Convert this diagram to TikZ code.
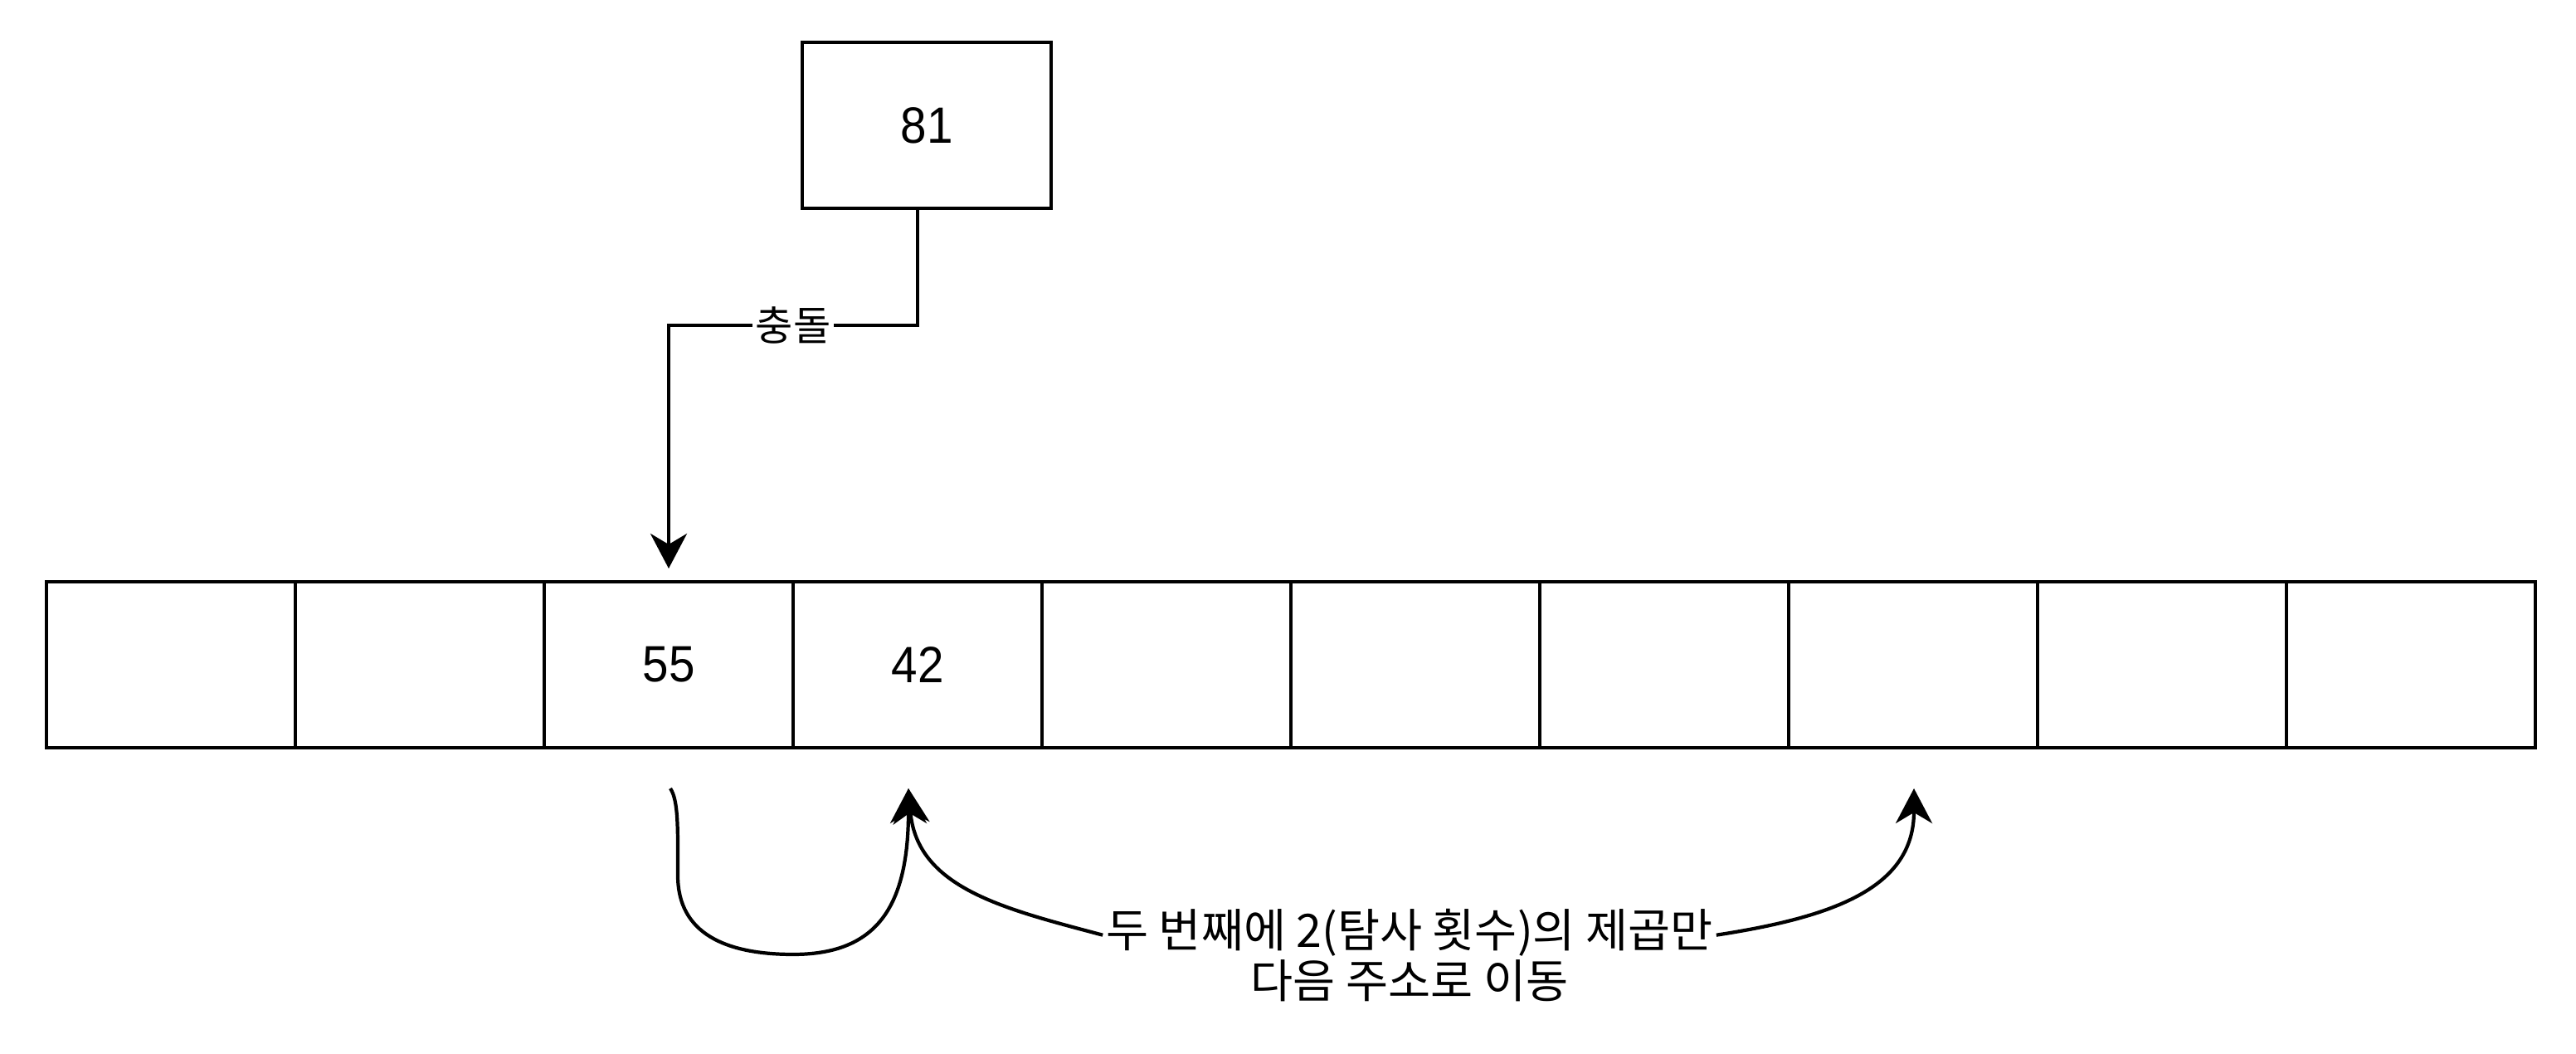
\documentclass[tikz,border=0pt]{standalone}
\usepackage{fontspec}
\setmainfont{Liberation Sans}[FakeStretch=0.92]
\newfontfamily\kr{Noto Sans CJK KR}
\usetikzlibrary{arrows.meta, positioning, calc}

\begin{document}
\begin{tikzpicture}[
      node distance=0cm,
      font=\fontsize{17.5}{21}\selectfont,
      cell/.style={draw, line width=1.2pt, minimum width=3cm, minimum height=2cm,
                   outer sep=0pt, inner sep=0pt},
      arr/.style={-{Stealth[length=4.2mm, width=4.4mm, inset=1.3mm]}, line width=1.2pt},
      lbl/.style={fill=white, inner sep=1pt, font=\kr\fontsize{14}{17.3}\selectfont},
      notelbl/.style={lbl, align=center, font=\kr\fontsize{15.8}{17.5}\selectfont}
   ]
      \useasboundingbox (0,0) rectangle (31.05,12.7);

      % hash table
      \node[cell] (c1) at (2.06,4.69) {};
      \foreach \i [count=\j from 2] in {1,...,9}
         \node[cell, right=of c\i] (c\j) {};
      \node (v55) at (c3) {55};
      \node (v42) at (c4) {42};

      % new key
      \node[cell] (key) at (11.17,11.19) {81};
      \node[lbl] (hit) at (9.56,8.78) {충돌};
      \draw[line width=1.2pt] (c4 |- key.south) |- (hit);
      \draw[arr, shorten >=1.6mm] (hit) -| (c3.north);

      % probing
      \coordinate (out55) at ([xshift=0.2mm, yshift=-4.9mm]c3.south);
      \coordinate (in42) at ([xshift=-1.1mm, yshift=-4.9mm]c4.south);
      \coordinate (in8) at ([xshift=0.1mm, yshift=-4.9mm]c8.south);
      \node[notelbl] (note) at (16.99,1.19)
         {두 번째에 2(탐사 횟수)의 제곱만\\다음 주소로 이동};

      \draw[arr] (out55) .. controls (8.18,3.05) and (8.17,2.70) .. (8.17,2.15)
         .. controls (8.17,1.45) and (8.75,1.20) .. (9.56,1.20)
         .. controls (10.55,1.20) and (10.95,1.75) .. (in42);
      \draw[arr] ([yshift=-3.6mm]note.north west) .. controls (12.1,1.75) and (11.05,2.0) .. (in42);
      \draw[arr] ([yshift=-3.6mm]note.north east) .. controls (22.1,1.65) and (23.07,2.0) .. (in8);
   \end{tikzpicture}
\end{document}
